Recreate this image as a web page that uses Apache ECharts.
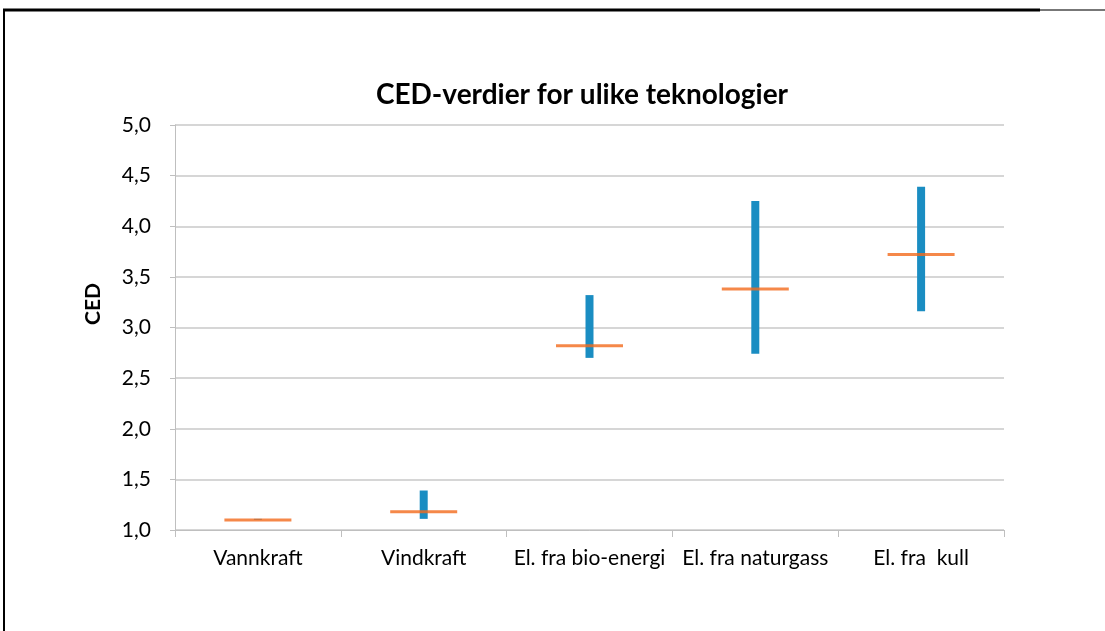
<!DOCTYPE html>
<html>
<head>
<meta charset="utf-8">
<script src="https://cdn.jsdelivr.net/npm/echarts@6/dist/echarts.min.js"></script>
<style>
html,body{margin:0;padding:0;background:#fff;}
#chart{width:1105px;height:631px;}
</style>
</head>
<body>
<div id="chart"></div>
<script>
// data
var categories = ['Vannkraft', 'Vindkraft', 'El. fra bio-energi', 'El. fra naturgass', 'El. fra  kull'];
var minValues = [1.10, 1.11, 2.70, 2.74, 3.16];
var maxValues = [1.11, 1.39, 3.32, 4.25, 4.39];
var meanValues = [1.10, 1.18, 2.82, 3.38, 3.72];

var fontFam = 'Lato, "Open Sans", sans-serif';

var baseData = minValues;
var spanData = [];
for (var i = 0; i < minValues.length; i++) {
    spanData.push(+(maxValues[i] - minValues[i]).toFixed(3));
}

var option = {
    animation: false,
    backgroundColor: '#fff',
    title: {
        text: 'CED-verdier for ulike teknologier',
        left: 577,
        top: 76,
        textAlign: 'center',
        textStyle: {fontFamily: fontFam, fontSize: 28, fontWeight: 'bold', color: '#000'}
    },
    graphic: [
        {type: 'line', shape: {x1: 3, y1: 10, x2: 1040, y2: 10}, style: {stroke: '#000', lineWidth: 3}},
        {type: 'line', shape: {x1: 1040, y1: 10, x2: 1105, y2: 10}, style: {stroke: '#777', lineWidth: 2}},
        {type: 'line', shape: {x1: 4, y1: 9, x2: 4, y2: 631}, style: {stroke: '#000', lineWidth: 2}},
        {
            type: 'text', x: 93, y: 304, rotation: Math.PI / 2,
            style: {text: 'CED', fontFamily: fontFam, fontSize: 21, fontWeight: 'bold', fill: '#000',
                    textAlign: 'center', textVerticalAlign: 'middle'}
        }
    ],
    grid: {left: 175, right: 101, top: 125, bottom: 101},
    xAxis: {
        type: 'category',
        data: categories,
        axisLine: {lineStyle: {color: '#bfbfbf', width: 1}},
        axisTick: {show: true, length: 7, lineStyle: {color: '#bfbfbf'}},
        axisLabel: {fontFamily: fontFam, fontSize: 21, color: '#000', margin: 18, interval: 0}
    },
    yAxis: {
        type: 'value',
        min: 1.0,
        max: 5.0,
        interval: 0.5,
        axisLine: {show: true, lineStyle: {color: '#bfbfbf'}},
        axisTick: {show: true, length: 5, lineStyle: {color: '#bfbfbf'}},
        splitLine: {lineStyle: {color: '#c8c8c8', width: 1.5}},
        axisLabel: {
            fontFamily: fontFam, fontSize: 21, color: '#000', margin: 24,
            formatter: function (v) { return v.toFixed(1).replace('.', ','); }
        }
    },
    series: [
        {
            type: 'bar', stack: 'range', data: baseData, barWidth: 8,
            itemStyle: {color: 'transparent'}, silent: true
        },
        {
            type: 'bar', stack: 'range', data: spanData, barWidth: 8,
            itemStyle: {color: '#1a8dc2'}
        },
        {
            type: 'scatter', data: meanValues, symbol: 'rect', symbolSize: [67, 3],
            itemStyle: {color: '#f26a1b'}, z: 5
        }
    ]
};

var myChart = echarts.init(document.getElementById('chart'));
myChart.setOption(option);
</script>
</body>
</html>
